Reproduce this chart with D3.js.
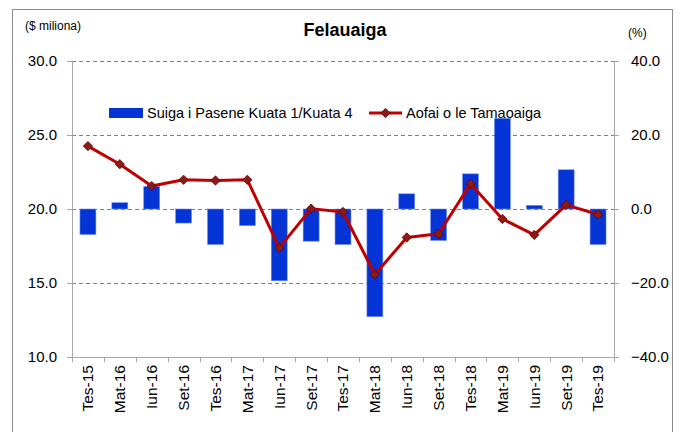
<!DOCTYPE html>
<html>
<head>
<meta charset="utf-8">
<script src="https://cdn.jsdelivr.net/npm/d3@7"></script>
<style>
body { margin: 0; background: #fff; }
text { font-family: "Liberation Sans", Arial, sans-serif; fill: #000; }
</style>
</head>
<body>
<script>
var categories = ["Tes-15","Mat-16","Iun-16","Set-16","Tes-16","Mat-17","Iun-17","Set-17","Tes-17",
	"Mat-18","Iun-18","Set-18","Tes-18","Mat-19","Iun-19","Set-19","Tes-19"];
// quarterly % change (bars, right axis)
var suiga = [-6.9, 1.7, 6.1, -3.8, -9.6, -4.5, -19.4, -8.7, -9.6,
	-29.1, 4.1, -8.5, 9.5, 24.5, 1.0, 10.6, -9.6];
// annual % (line, right axis)
var aofai = [17.0, 12.1, 6.2, 7.9, 7.7, 7.9, -10.5, 0.1, -0.8,
	-17.7, -7.7, -6.7, 6.8, -2.7, -7.0, 1.1, -1.5];
var leftTicks = [10, 15, 20, 25, 30];
var rightTicks = [-40, -20, 0, 20, 40];

var W = 680, H = 432;
var margin = {top: 61, right: 66, bottom: 75, left: 72},
	width = W - margin.left - margin.right,
	height = H - margin.top - margin.bottom;

var svg = d3.select("body").append("svg")
	.attr("width", W)
	.attr("height", H);

// outer frame
svg.append("rect")
	.attr("x", 12.5).attr("y", 9.5)
	.attr("width", 660).attr("height", 440)
	.attr("fill", "none").attr("stroke", "#8c8c8c");

var g = svg.append("g")
	.attr("transform", "translate(" + margin.left + "," + margin.top + ")");

var x = d3.scaleBand().domain(categories).range([0, width]).paddingInner(0.5).paddingOuter(0.25);
var yL = d3.scaleLinear().domain([10, 30]).range([height, 0]);
var yR = d3.scaleLinear().domain([-40, 40]).range([height, 0]);

// gridlines
g.selectAll(".grid").data(leftTicks).enter().append("line")
	.attr("x1", 0).attr("x2", width)
	.attr("y1", function(d) { return Math.round(yL(d)) + 0.5; })
	.attr("y2", function(d) { return Math.round(yL(d)) + 0.5; })
	.attr("stroke", "#7f7f7f")
	.attr("stroke-dasharray", "4,3");

// bars
g.selectAll(".bar").data(suiga).enter().append("rect")
	.attr("x", function(d, i) { return x(categories[i]); })
	.attr("width", x.bandwidth())
	.attr("y", function(d) { return yR(Math.max(0, d)); })
	.attr("height", function(d) { return Math.abs(yR(d) - yR(0)); })
	.attr("fill", "#0433d6")
	.attr("stroke", "#6f8ff0")
	.attr("stroke-width", 0.6);

// axes
var axL = g.append("g").call(d3.axisLeft(yL).tickValues(leftTicks).tickSize(5).tickPadding(10).tickFormat(d3.format(".1f")));
var axR = g.append("g").attr("transform", "translate(" + width + ",0)")
	.call(d3.axisRight(yR).tickValues(rightTicks).tickSize(5).tickPadding(12).tickFormat(d3.format(".1f")));
var axB = g.append("g").attr("transform", "translate(0," + height + ")")
	.call(d3.axisBottom(x).tickSize(0).tickPadding(8));

[axL, axR, axB].forEach(function(a) {
	a.select(".domain").attr("stroke", "#a6a6a6");
	a.selectAll(".tick line").attr("stroke", "#a6a6a6");
	a.selectAll("text").style("font-family", "Liberation Sans, Arial, sans-serif").attr("fill", "#000");
});
axL.selectAll("text").style("font-size", "15px");
axR.selectAll("text").style("font-size", "15px");
axR.selectAll("text").attr("x", 17);

// bottom category boundary ticks
g.selectAll(".btick").data(d3.range(categories.length + 1)).enter().append("line")
	.attr("x1", function(d) { return Math.round(d * width / categories.length) + 0.5; })
	.attr("x2", function(d) { return Math.round(d * width / categories.length) + 0.5; })
	.attr("y1", height).attr("y2", height + 5)
	.attr("stroke", "#a6a6a6");

axB.selectAll("text")
	.style("font-size", "15.5px")
	.attr("transform", "rotate(-90)")
	.attr("text-anchor", "end")
	.attr("x", -8)
	.attr("y", 0)
	.attr("dy", "0.35em");

// line
var cx = function(i) { return x(categories[i]) + x.bandwidth() / 2; };
var line = d3.line()
	.x(function(d, i) { return cx(i); })
	.y(function(d) { return yR(d); });

g.append("path").datum(aofai)
	.attr("d", line)
	.attr("fill", "none")
	.attr("stroke", "#c00000")
	.attr("stroke-width", 3)
	.attr("stroke-linejoin", "round");

var diamond = d3.symbol().type(d3.symbolDiamond2).size(55);
g.selectAll(".pt").data(aofai).enter().append("path")
	.attr("d", diamond)
	.attr("transform", function(d, i) { return "translate(" + cx(i) + "," + yR(d) + ")"; })
	.attr("fill", "#8b1a1a")
	.attr("stroke", "#6b0000")
	.attr("stroke-width", 0.8);

// titles
svg.append("text").attr("x", 345).attr("y", 36)
	.attr("text-anchor", "middle")
	.style("font-size", "18px").style("font-weight", "bold")
	.text("Felauaiga");
svg.append("text").attr("x", 25).attr("y", 30)
	.style("font-size", "12px").text("($ miliona)");
svg.append("text").attr("x", 628).attr("y", 37)
	.style("font-size", "12px").text("(%)");

// legend
var lg = svg.append("g");
lg.append("rect").attr("x", 109).attr("y", 108).attr("width", 34).attr("height", 10).attr("fill", "#0433d6");
lg.append("text").attr("x", 147).attr("y", 118).style("font-size", "14.5px").text("Suiga i Pasene Kuata 1/Kuata 4");
lg.append("line").attr("x1", 369).attr("x2", 402).attr("y1", 113).attr("y2", 113)
	.attr("stroke", "#c00000").attr("stroke-width", 3);
lg.append("path").attr("d", diamond).attr("transform", "translate(385.5,113)")
	.attr("fill", "#8b1a1a").attr("stroke", "#6b0000").attr("stroke-width", 0.8);
lg.append("text").attr("x", 406).attr("y", 118).style("font-size", "14.5px").text("Aofai o le Tamaoaiga");
</script>
</body>
</html>
